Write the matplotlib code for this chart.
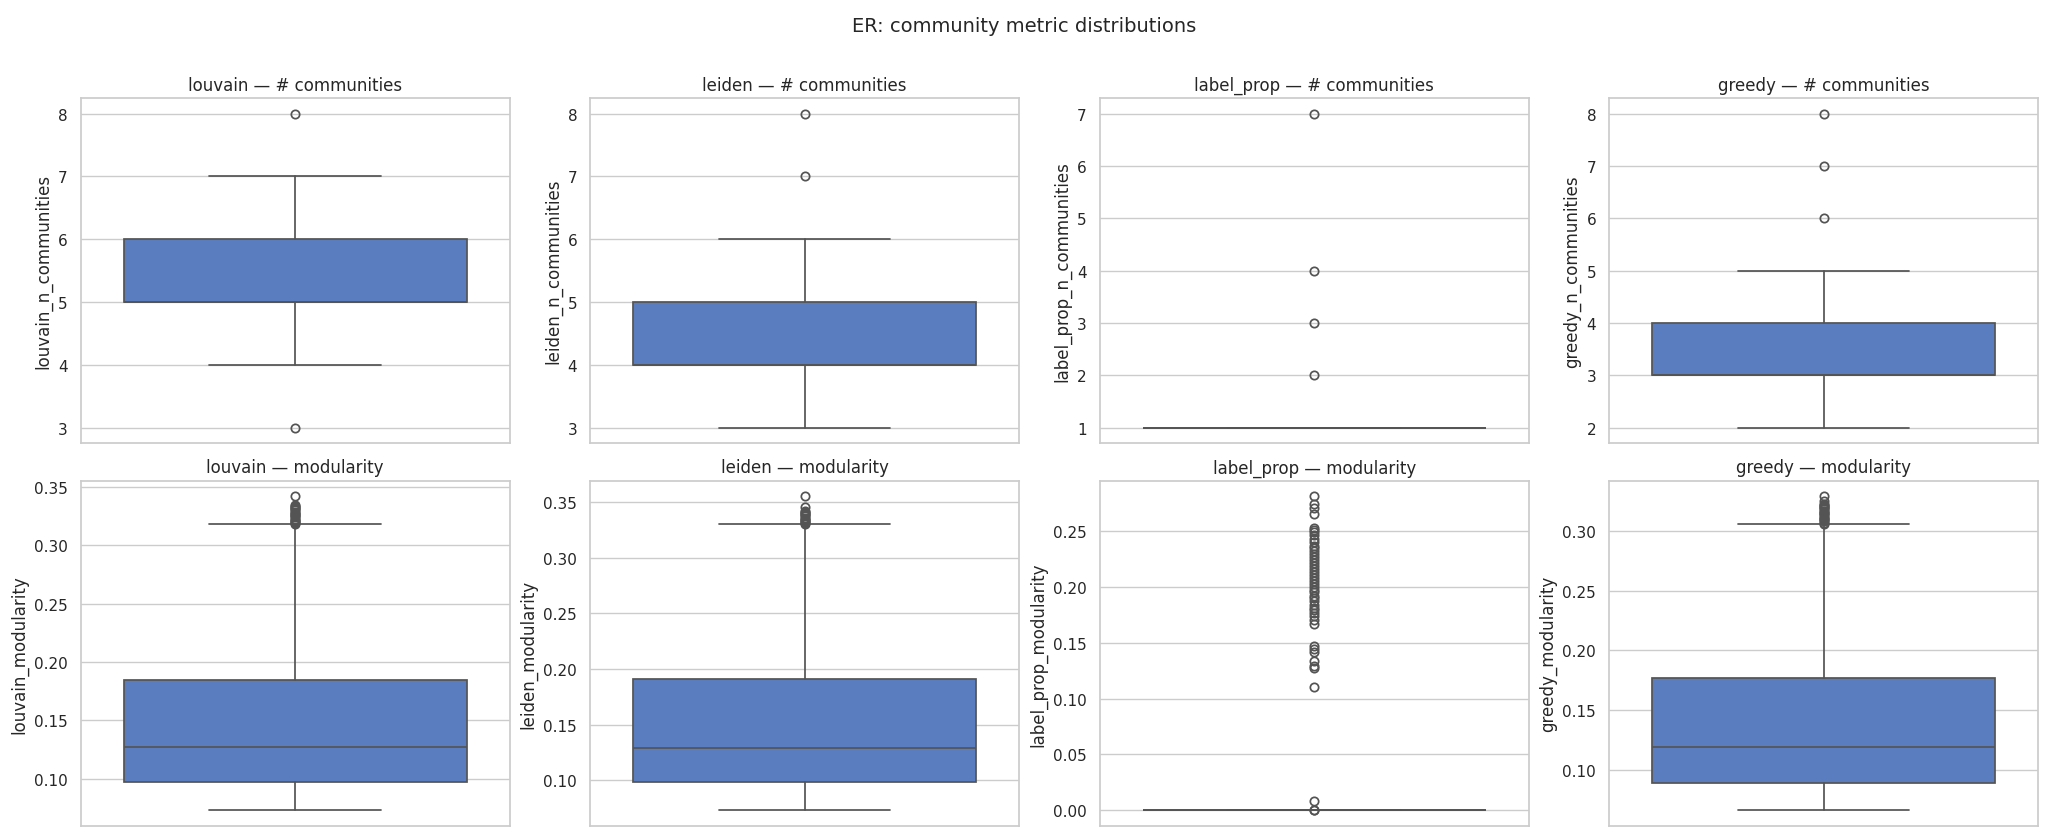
import colorsys

import matplotlib
matplotlib.use("Agg")
import matplotlib.pyplot as plt
import seaborn as sns

METHODS = ["louvain", "leiden", "label_prop", "greedy"]

# box stats: (whislo, q1, median, q3, whishi)
NCOMM_STATS = {
    "louvain": (4, 5, 5, 6, 7),
    "leiden": (3, 4, 4, 5, 6),
    "label_prop": (1, 1, 1, 1, 1),
    "greedy": (2, 3, 3, 4, 5),
}
NCOMM_FLIERS = {
    "louvain": [3, 8],
    "leiden": [7, 8],
    "label_prop": [2, 3, 4, 7],
    "greedy": [6, 7, 8],
}

MOD_STATS = {
    "louvain": (0.073, 0.097, 0.127, 0.185, 0.318),
    "leiden": (0.073, 0.098, 0.129, 0.191, 0.330),
    "label_prop": (0.0, 0.0, 0.0, 0.0, 0.0),
    "greedy": (0.066, 0.089, 0.119, 0.177, 0.306),
}
MOD_FLIERS = {
    "louvain": [0.318, 0.319, 0.320, 0.321, 0.322, 0.323, 0.324, 0.325,
                0.326, 0.327, 0.328, 0.329, 0.330, 0.331, 0.332, 0.333,
                0.334, 0.335, 0.342],
    "leiden": [0.330, 0.331, 0.332, 0.333, 0.334, 0.335, 0.336, 0.337,
               0.338, 0.339, 0.340, 0.341, 0.342, 0.345, 0.355],
    "label_prop": [0.0, 0.0, 0.008, 0.110, 0.127, 0.129, 0.134, 0.142,
                   0.144, 0.147, 0.167, 0.170, 0.174, 0.177, 0.179, 0.181,
                   0.184, 0.187, 0.190, 0.192, 0.195, 0.197, 0.200, 0.203,
                   0.205, 0.208, 0.211, 0.213, 0.216, 0.219, 0.221, 0.224,
                   0.227, 0.229, 0.232, 0.235, 0.237, 0.240, 0.243, 0.246,
                   0.249, 0.251, 0.253, 0.265, 0.271, 0.274, 0.281],
    "greedy": [0.306, 0.307, 0.308, 0.309, 0.310, 0.311, 0.312, 0.313,
               0.314, 0.315, 0.316, 0.317, 0.318, 0.319, 0.320, 0.321,
               0.322, 0.323, 0.325, 0.329],
}

sns.set_theme(style="whitegrid", palette="muted")
plt.rcParams["font.family"] = ["DejaVu Sans"]

BOX_COLOR = sns.desaturate(sns.color_palette("muted")[0], 0.75)
lum = colorsys.rgb_to_hls(*BOX_COLOR)[1] * 0.6
LINE_COLOR = (lum, lum, lum)
LW = 1.25


def draw_box(ax, stats, fliers):
    whislo, q1, med, q3, whishi = stats
    bx = dict(whislo=whislo, q1=q1, med=med, q3=q3, whishi=whishi, fliers=fliers)
    ax.bxp([bx], positions=[0], widths=0.8, patch_artist=True, capwidths=0.4,
           boxprops=dict(facecolor=BOX_COLOR, edgecolor=LINE_COLOR, linewidth=LW),
           medianprops=dict(color=LINE_COLOR, linewidth=LW),
           whiskerprops=dict(color=LINE_COLOR, linewidth=LW),
           capprops=dict(color=LINE_COLOR, linewidth=LW),
           flierprops=dict(marker="o", markersize=6, markerfacecolor="none",
                           markeredgecolor=LINE_COLOR, markeredgewidth=LW))
    ax.set_xlim(-0.5, 0.5)
    ax.set_xticks([])
    ax.set_xlabel("")


fig, axes = plt.subplots(2, 4, figsize=(20.48, 8.37), dpi=100)
for j, m in enumerate(METHODS):
    ax = axes[0, j]
    draw_box(ax, NCOMM_STATS[m], NCOMM_FLIERS[m])
    ax.set_title(f"{m} — # communities")
    ax.set_ylabel(f"{m}_n_communities")

    ax = axes[1, j]
    draw_box(ax, MOD_STATS[m], MOD_FLIERS[m])
    ax.set_title(f"{m} — modularity")
    ax.set_ylabel(f"{m}_modularity")

fig.suptitle("ER: community metric distributions", fontsize=14)
fig.tight_layout(pad=0.6, h_pad=0.9, rect=[0, 0, 1, 0.955])
fig.savefig("out.png", dpi=100)
